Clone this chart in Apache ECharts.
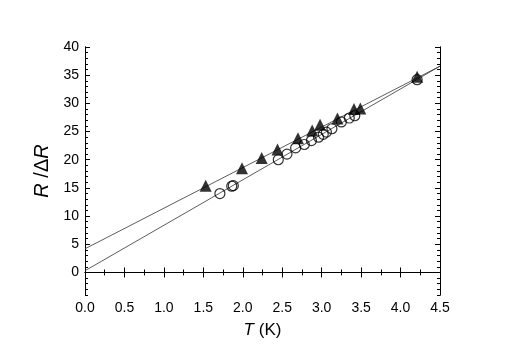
<!DOCTYPE html>
<html>
<head>
<meta charset="utf-8">
<script src="https://cdn.jsdelivr.net/npm/echarts@6/dist/echarts.min.js"></script>
<style>
  html, body { margin: 0; padding: 0; background: #fff; }
  #chart { width: 508px; height: 354px; }
</style>
</head>
<body>
<div id="chart"></div>
<script>
// open circles
const circleT = [1.71, 1.86, 1.88, 2.45, 2.56, 2.67, 2.78, 2.87, 2.96, 3.02, 3.06, 3.13, 3.25, 3.35, 3.42, 4.21]
const circleR = [14.0, 15.3, 15.4, 20.0, 21.0, 22.1, 22.7, 23.4, 24.0, 24.5, 24.9, 25.5, 26.7, 27.4, 27.8, 34.2]
// filled triangles
const triT = [1.53, 1.99, 2.24, 2.44, 2.70, 2.88, 2.98, 3.20, 3.41, 3.49, 4.21]
const triR = [15.4, 18.5, 20.3, 21.8, 23.8, 25.2, 26.2, 27.3, 29.0, 29.1, 34.7]
// fitted lines, end points
const fitCircle = [[0, 0.3], [4.5, 36.6]]
const fitTri = [[0, 4.2], [4.5, 36.6]]
const yMajor = [0, 5, 10, 15, 20, 25, 30, 35, 40]

const font = 'Liberation Sans'
const black = '#000'

function pairs (xs, ys) {
  return xs.map((x, i) => [x, ys[i]])
}

const xBase = {
  type: 'value',
  min: 0,
  max: 4.5,
  interval: 0.5,
  axisLine: { show: true, lineStyle: { color: black, width: 1 } },
  axisTick: { show: true, inside: true, length: 5, lineStyle: { color: black, width: 1 } },
  minorTick: { show: true, splitNumber: 2, length: 3, lineStyle: { color: black, width: 1 } },
  splitLine: { show: false }
}

const yMinor = {
  type: 'value',
  min: -4,
  max: 40,
  interval: 1,
  axisLine: { show: true, lineStyle: { color: black, width: 1 } },
  axisTick: { show: true, inside: true, length: 3, lineStyle: { color: black, width: 1 } },
  axisLabel: { show: false },
  splitLine: { show: false }
}

const yMajorAxis = {
  type: 'value',
  min: -4,
  max: 40,
  axisLine: { show: true, lineStyle: { color: black, width: 1 } },
  axisTick: { show: true, inside: true, length: 5, customValues: yMajor, lineStyle: { color: black, width: 1 } },
  axisLabel: { show: false },
  splitLine: { show: false }
}

const option = {
  animation: false,
  grid: { left: 85, right: 68, top: 47, bottom: 59 },
  xAxis: [
    Object.assign({}, xBase, {
      position: 'bottom',
      axisLabel: {
        color: black, fontFamily: font, fontSize: 14, margin: 6,
        formatter: v => v.toFixed(1)
      },
      name: '{i|T} (K)',
      nameLocation: 'middle',
      nameGap: 27,
      nameTextStyle: {
        color: black, fontFamily: font, fontSize: 17,
        rich: { i: { fontStyle: 'italic', fontFamily: font, fontSize: 17, color: black } }
      }
    }),
    Object.assign({}, xBase, { position: 'top', axisLabel: { show: false } })
  ],
  yAxis: [
    Object.assign({}, yMinor, {
      position: 'left',
      axisLabel: {
        show: true, customValues: yMajor, color: black, fontFamily: font, fontSize: 14, margin: 6
      },
      name: '{i|R} /Δ{i|R}',
      nameLocation: 'middle',
      nameGap: 30,
      nameTextStyle: {
        color: black, fontFamily: font, fontSize: 20,
        rich: { i: { fontStyle: 'italic', fontFamily: font, fontSize: 20, color: black } }
      }
    }),
    Object.assign({}, yMajorAxis, { position: 'left' }),
    Object.assign({}, yMinor, { position: 'right' }),
    Object.assign({}, yMajorAxis, { position: 'right' })
  ],
  series: [
    {
      type: 'line',
      data: fitCircle,
      symbol: 'none',
      lineStyle: { color: '#333', width: 0.8 },
      z: 1
    },
    {
      type: 'line',
      data: fitTri,
      symbol: 'none',
      lineStyle: { color: '#333', width: 0.8 },
      z: 1
    },
    {
      type: 'scatter',
      data: pairs(circleT, circleR),
      symbol: 'circle',
      symbolSize: 10,
      itemStyle: { color: 'rgba(255,255,255,0)', borderColor: black, borderWidth: 1.2 },
      z: 2
    },
    {
      type: 'scatter',
      data: pairs(triT, triR),
      symbol: 'triangle',
      symbolSize: 12,
      itemStyle: { color: black },
      z: 3
    }
  ]
}

const myChart = echarts.init(document.getElementById('chart'))
myChart.setOption(option)
</script>
</body>
</html>
